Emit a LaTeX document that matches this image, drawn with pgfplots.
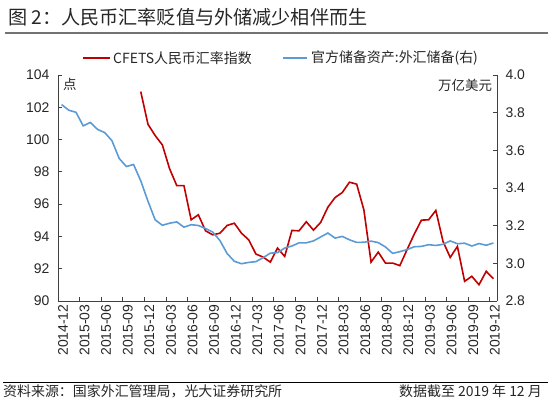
\documentclass[border=0pt]{standalone}
\usepackage{pgfplots}
\pgfplotsset{compat=1.18}
\usepackage{pgfplotstable}
\usepackage{fontspec}
\setmainfont{Liberation Sans}
\newfontfamily\cjk{Noto Sans CJK SC}
\definecolor{cred}{HTML}{C00000}
\definecolor{cblue}{HTML}{5B9BD5}
\definecolor{axc}{HTML}{404040}
\definecolor{txt}{HTML}{262626}

\pgfplotstableread{
x y
11 102.97
12 100.95
13 100.25
14 99.67
15 98.20
16 97.15
17 97.15
18 95.03
19 95.34
20 94.35
21 94.10
22 94.20
23 94.68
24 94.82
25 94.20
26 93.79
27 92.91
28 92.72
29 92.41
30 93.28
31 92.76
32 94.37
33 94.35
34 94.91
35 94.39
36 94.87
37 95.81
38 96.41
39 96.72
40 97.36
41 97.24
42 95.65
43 92.41
44 93.03
45 92.35
46 92.35
47 92.19
48 93.18
49 94.14
50 95.01
51 95.03
52 95.61
53 93.69
54 92.70
55 93.38
56 91.22
57 91.53
58 91.01
59 91.84
60 91.38
}\cfets

\pgfplotstableread{
x y
0 3.843
1 3.813
2 3.802
3 3.730
4 3.748
5 3.711
6 3.694
7 3.651
8 3.557
9 3.514
10 3.525
11 3.438
12 3.330
13 3.231
14 3.202
15 3.213
16 3.220
17 3.192
18 3.205
19 3.201
20 3.185
21 3.166
22 3.121
23 3.052
24 3.011
25 2.998
26 3.005
27 3.009
28 3.030
29 3.054
30 3.057
31 3.081
32 3.092
33 3.109
34 3.109
35 3.119
36 3.140
37 3.161
38 3.134
39 3.143
40 3.125
41 3.111
42 3.112
43 3.118
44 3.110
45 3.087
46 3.053
47 3.062
48 3.073
49 3.088
50 3.090
51 3.099
52 3.095
53 3.101
54 3.119
55 3.104
56 3.107
57 3.092
58 3.105
59 3.096
60 3.108
}\reserve

\begin{document}
\begin{tikzpicture}
\path[use as bounding box] (0bp,0bp) rectangle (550bp,-399bp);
% title
\node[anchor=west, inner sep=0pt, font=\cjk\fontsize{19.2}{19.2}\selectfont, text=txt] at (8bp,-17bp) {图 2：人民币汇率贬值与外储减少相伴而生};
\draw[black!55, line width=1.2bp] (5bp,-33bp) -- (548bp,-33bp);
% legend
\draw[cred, line width=2bp] (83bp,-58bp) -- (110bp,-58bp);
\node[anchor=west, inner sep=0pt, font=\cjk\fontsize{14}{14}\selectfont, text=txt] at (113bp,-58bp) {CFETS人民币汇率指数};
\draw[cblue, line width=2bp] (283bp,-58bp) -- (307bp,-58bp);
\node[anchor=west, inner sep=0pt, font=\cjk\fontsize{14}{14}\selectfont, text=txt] at (311bp,-58bp) {官方储备资产:外汇储备(右)};

\begin{axis}[
  at={(58bp,-301bp)}, anchor=south west,
  scale only axis, width=439bp, height=226bp,
  xmin=-0.5, xmax=60.5, ymin=90, ymax=104,
  ytick={90,92,...,104},
  xtick={-0.5,2.5,...,59.5},
  xticklabels={2014-12,2015-03,2015-06,2015-09,2015-12,2016-03,2016-06,2016-09,2016-12,2017-03,2017-06,2017-09,2017-12,2018-03,2018-06,2018-09,2018-12,2019-03,2019-06,2019-09,2019-12},
  axis y line*=left, axis x line*=bottom,
  axis line style={axc, line width=0.9bp, -},
  tick style={axc, line width=0.9bp},
  tick align=inside, major tick length=4bp,
  /pgf/number format/assume math mode=true,
  yticklabel style={font=\fontsize{14}{14}\selectfont, text=txt, xshift=-5bp},
  xticklabel style={font=\fontsize{14}{14}\selectfont, text=txt, rotate=90, anchor=east, yshift=-5bp},
  clip=false,
]
\addplot[cred, line width=1.6bp] table[x=x,y=y] {\cfets};
\node[anchor=west, inner sep=0pt, font=\cjk\fontsize{13.5}{13.5}\selectfont, text=txt] at (rel axis cs:0.011,0.96) {点};
\end{axis}

\begin{axis}[
  at={(58bp,-301bp)}, anchor=south west,
  scale only axis, width=439bp, height=226bp,
  xmin=-0.5, xmax=60.5, ymin=2.8, ymax=4.0,
  ytick={2.8,3.0,...,4.0},
  axis y line*=right, axis x line=none,
  axis line style={axc, line width=0.9bp, -},
  tick style={axc, line width=0.9bp},
  tick align=inside, major tick length=4bp,
  /pgf/number format/assume math mode=true,
  yticklabel style={font=\fontsize{14}{14}\selectfont, text=txt, xshift=5bp,
    /pgf/number format/.cd, fixed, fixed zerofill, precision=1},
  clip=false,
]
\addplot[cblue, line width=1.6bp] table[x=x,y=y] {\reserve};
\node[anchor=east, inner sep=0pt, font=\cjk\fontsize{13.5}{13.5}\selectfont, text=txt] at (rel axis cs:0.989,0.955) {万亿美元};
\end{axis}

% footer
\draw[black, line width=0.8bp] (3bp,-382bp) -- (548bp,-382bp);
\node[anchor=west, inner sep=0pt, font=\cjk\fontsize{14}{14}\selectfont, text=txt] at (3bp,-391bp) {资料来源：国家外汇管理局，光大证券研究所};
\node[anchor=east, inner sep=0pt, font=\cjk\fontsize{14}{14}\selectfont, text=txt] at (542bp,-391bp) {数据截至 2019 年 12 月};
\end{tikzpicture}
\end{document}
